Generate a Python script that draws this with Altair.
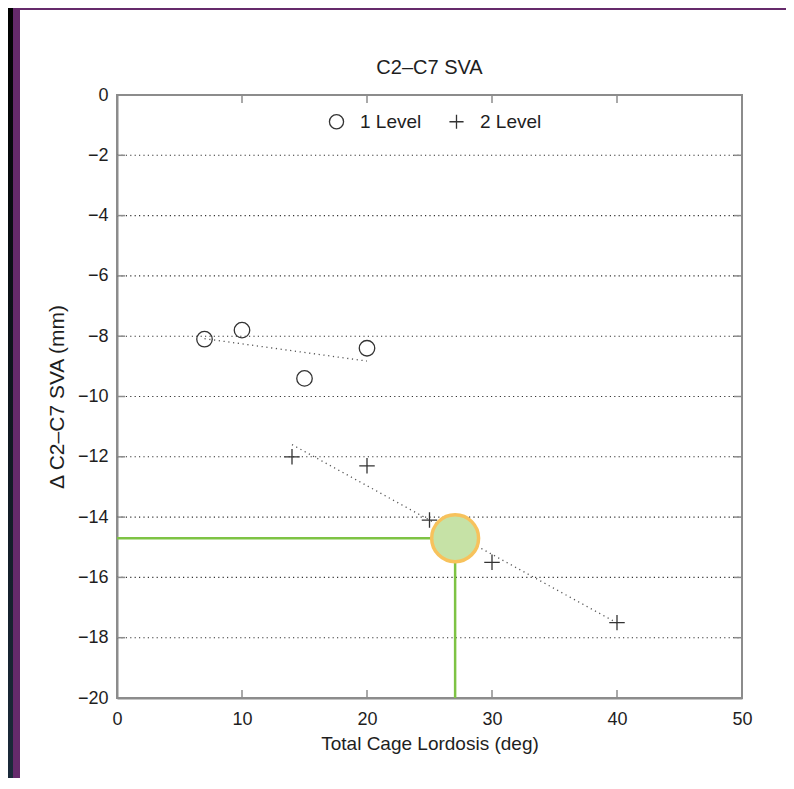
import altair as alt
import pandas as pd

# ---- data ----
one_x = [7, 10, 15, 20]
one_y = [-8.1, -7.8, -9.4, -8.4]
two_x = [14, 20, 25, 30, 40]
two_y = [-12.0, -12.3, -14.1, -15.5, -17.5]
levels = ["1 Level", "2 Level"]
hl_x = [27.05]
hl_y = [-14.7]
x_tick_labels = [0, 10, 20, 30, 40, 50]
y_tick_labels = [0, -2, -4, -6, -8, -10, -12, -14, -16, -18, -20]
inner_x_ticks = [10, 20, 30, 40]
inner_y_ticks = [-2, -4, -6, -8, -10, -12, -14, -16, -18]
chart_title = "C2–C7 SVA"

FONT = "Liberation Sans"
GRAY = "#8c8c8c"
INK = "#333333"
TXT = "#1e1e1e"
W, H = 625, 603
PAD_L, PAD_T = 109, 87
SVG_W, SVG_H = 778, 770
PLUS = "M-1,0H1M0,-1V1"

pts = pd.DataFrame(
    {"x": one_x + two_x,
     "y": one_y + two_y,
     "level": [levels[0]] * len(one_x) + [levels[1]] * len(two_x)}
)

xs = alt.Scale(domain=[0, 50], nice=False, zero=False)
ys = alt.Scale(domain=[-20, 0], nice=False, zero=False)

def X(field="x"):
    return alt.X(
        f"{field}:Q", scale=xs, title="Total Cage Lordosis (deg)",
        axis=alt.Axis(values=x_tick_labels, format="d", grid=False, ticks=False,
                      domainColor=GRAY, domainWidth=2, labelFont=FONT,
                      labelFontSize=18, labelColor=TXT, labelPadding=12,
                      titleFont=FONT, titleFontSize=19, titleFontWeight="normal",
                      titleColor=TXT, titlePadding=6, labelFlush=False),
    )

def Y(field="y"):
    return alt.Y(
        f"{field}:Q", scale=ys, title="Δ C2–C7 SVA (mm)",
        axis=alt.Axis(values=y_tick_labels, format="d", grid=False, ticks=False,
                      domainColor=GRAY, domainWidth=2, labelFont=FONT,
                      labelFontSize=18, labelColor=TXT, labelPadding=9,
                      titleFont=FONT, titleFontSize=21, titleFontWeight="normal",
                      titleColor=TXT, titlePadding=10, labelFlush=False),
    )

one = alt.Data(values=[{}])

# frame decoration (outside plot area)
dark = alt.Chart(one).mark_rect(
    color=alt.LinearGradient(
        gradient="linear", x1=0, x2=0, y1=0, y2=1,
        stops=[alt.GradientStop(offset=0, color="#020202"),
               alt.GradientStop(offset=1, color="#1b2a3a")])
).encode(x=alt.value(-PAD_L), x2=alt.value(-104), y=alt.value(-PAD_T), y2=alt.value(SVG_H - PAD_T))
purple_left = alt.Chart(one).mark_rect(color="#652a6b").encode(
    x=alt.value(-104), x2=alt.value(-97), y=alt.value(-PAD_T), y2=alt.value(SVG_H - PAD_T))
purple_top = alt.Chart(one).mark_rect(color="#652a6b").encode(
    x=alt.value(-104), x2=alt.value(SVG_W - PAD_L), y=alt.value(-PAD_T), y2=alt.value(-85))

# chart title
title = alt.Chart(one).mark_text(
    text=chart_title, font=FONT, fontSize=20, color=TXT, align="center", baseline="middle"
).encode(x=alt.value(W / 2), y=alt.value(-27))

# dotted grid
grid_df = pd.DataFrame({"y": inner_y_ticks})
grid = alt.Chart(grid_df).mark_rule(color="#333", strokeWidth=1.1, strokeDash=[1.2, 3.2]).encode(
    y=Y(), x=alt.value(0), x2=alt.value(W))

# inward ticks
xt = pd.DataFrame({"x": inner_x_ticks})
yt = pd.DataFrame({"y": inner_y_ticks})
tick_style = dict(color=GRAY, strokeWidth=1.5)
xt_bot = alt.Chart(xt).mark_rule(**tick_style).encode(x=X(), y=alt.value(H), y2=alt.value(H - 8))
xt_top = alt.Chart(xt).mark_rule(**tick_style).encode(x=X(), y=alt.value(0), y2=alt.value(8))
yt_left = alt.Chart(yt).mark_rule(**tick_style).encode(y=Y(), x=alt.value(0), x2=alt.value(8))
yt_right = alt.Chart(yt).mark_rule(**tick_style).encode(y=Y(), x=alt.value(W - 8), x2=alt.value(W))

# regression lines
fits = alt.Chart(pts).transform_regression("x", "y", groupby=["level"]).mark_line(
    color="#555", strokeWidth=1.3, strokeDash=[1.2, 3.6]
).encode(x=X(), y=Y(), detail="level:N")

# data points
points = alt.Chart(pts).mark_point(filled=False, color=INK, strokeWidth=1.3, size=240, opacity=1).encode(
    x=X(), y=Y(),
    shape=alt.Shape("level:N", scale=alt.Scale(domain=levels, range=["circle", PLUS]),
                    legend=alt.Legend(orient="none", legendX=210, legendY=17,
                                      direction="horizontal", title=None,
                                      labelFont=FONT, labelFontSize=19, labelColor=TXT,
                                      symbolStrokeColor=INK, symbolStrokeWidth=1.3,
                                      symbolSize=200, symbolFillColor="transparent",
                                      labelOffset=14, columnPadding=24, padding=0)),
)

# highlight
hl_h = pd.DataFrame({"x": [0], "xe": hl_x, "y": hl_y})
hl_v = pd.DataFrame({"x": hl_x, "y": [-20], "ye": hl_y})
hl_pt = pd.DataFrame({"x": hl_x, "y": hl_y})
GREEN = "#7ec344"
h_line = alt.Chart(hl_h).mark_rule(color=GREEN, strokeWidth=2.5).encode(x=X(), x2="xe:Q", y=Y())
v_line = alt.Chart(hl_v).mark_rule(color=GREEN, strokeWidth=2.5).encode(x=X(), y=Y(), y2="ye:Q")
hl_circle = alt.Chart(hl_pt).mark_point(
    filled=True, fill="#c6e2a6", stroke="#f7c25c", strokeWidth=3.5, size=2200, opacity=1
).encode(x=X(), y=Y())

chart = alt.layer(
    dark, purple_left, purple_top, title, grid, xt_bot, xt_top, yt_left, yt_right,
    fits, points, h_line, v_line, hl_circle,
).properties(
    width=W, height=H,
    autosize=alt.AutoSizeParams(type="none"),
    padding={"left": PAD_L, "top": PAD_T, "right": SVG_W - PAD_L - W, "bottom": SVG_H - PAD_T - H},
    background="white",
).configure_view(stroke=GRAY, strokeWidth=2)

chart.save("out.html", embed_options={"renderer": "svg", "actions": False})
